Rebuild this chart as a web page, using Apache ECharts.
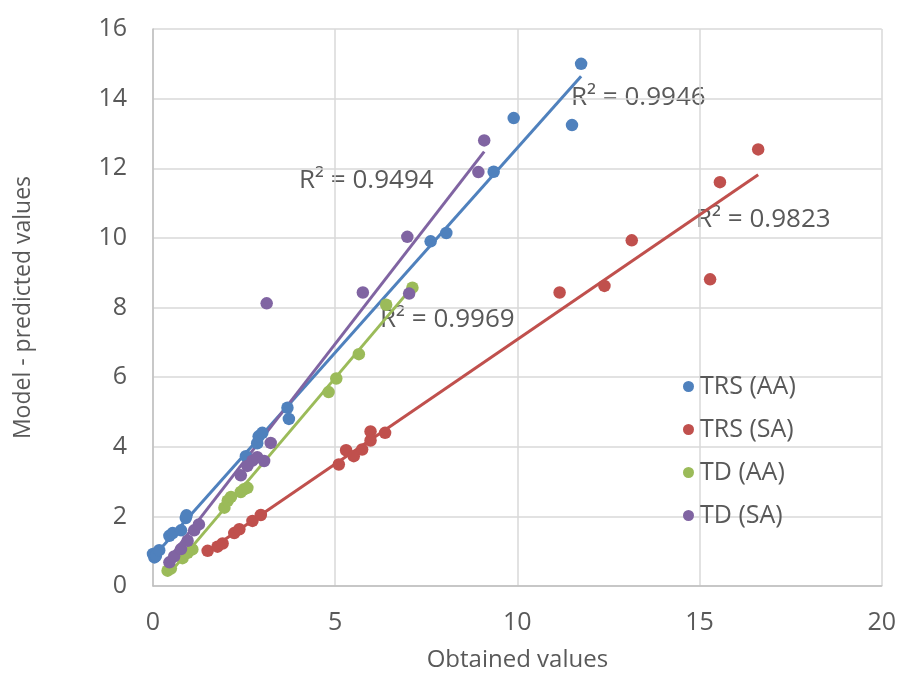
<!DOCTYPE html>
<html><head><meta charset="utf-8">
<script src="https://cdn.jsdelivr.net/npm/echarts@6/dist/echarts.min.js"></script>
<style>html,body{margin:0;padding:0;background:#fff}#c{width:899px;height:677px}</style>
</head><body><div id="c"></div>
<script>
var seriesNames = ['TRS (AA)', 'TRS (SA)', 'TD (AA)', 'TD (SA)'];
var trsAA = [[0,0.92],[0.04,0.82],[0.08,0.87],[0.17,1.03],[0.45,1.44],[0.54,1.52],[0.77,1.6],[0.9,1.95],[0.92,2.03],
  [2.55,3.73],[2.86,4.1],[2.9,4.3],[3.0,4.4],[3.69,5.12],[3.73,4.8],
  [7.62,9.9],[8.05,10.14],[9.35,11.9],[9.9,13.44],[11.5,13.24],[11.75,15.0]];
var trsSA = [[1.5,1.01],[1.77,1.13],[1.91,1.22],[2.23,1.52],[2.37,1.63],[2.73,1.87],[2.96,2.04],
  [5.1,3.49],[5.3,3.9],[5.51,3.73],[5.74,3.92],[5.97,4.18],[5.97,4.44],[6.37,4.4],
  [11.16,8.43],[12.39,8.62],[13.14,9.93],[15.29,8.81],[15.56,11.6],[16.61,12.54]];
var tdAA = [[0.4,0.44],[0.49,0.5],[0.81,0.8],[0.95,0.95],[1.08,1.05],
  [1.96,2.25],[2.05,2.45],[2.14,2.56],[2.41,2.7],[2.5,2.78],[2.59,2.82],
  [4.82,5.57],[5.03,5.96],[5.65,6.66],[6.4,8.08],[7.12,8.57]];
var tdSA = [[0.45,0.68],[0.58,0.85],[0.77,1.06],[0.95,1.3],[1.13,1.6],[1.26,1.77],
  [2.41,3.18],[2.59,3.45],[2.73,3.6],[2.86,3.7],[3.05,3.59],[3.23,4.11],[3.12,8.12],
  [5.76,8.43],[6.98,10.03],[7.03,8.4],[8.93,11.89],[9.09,12.8]];
var r2Labels = ['R² = 0.9946', 'R² = 0.9823', 'R² = 0.9969', 'R² = 0.9494'];
var xTicks = [0, 5, 10, 15, 20];
var yTicks = [0, 2, 4, 6, 8, 10, 12, 14, 16];

var colors = ['#4F81BD', '#C0504D', '#9BBB59', '#8064A2'];
var allData = [trsAA, trsSA, tdAA, tdSA];

function fit(d) {
  var n = d.length, sx = 0, sy = 0, sxx = 0, sxy = 0, mn = Infinity, mx = -Infinity;
  d.forEach(function (p) { sx += p[0]; sy += p[1]; sxx += p[0] * p[0]; sxy += p[0] * p[1]; mn = Math.min(mn, p[0]); mx = Math.max(mx, p[0]); });
  var b = (n * sxy - sx * sy) / (n * sxx - sx * sx), a = (sy - b * sx) / n;
  return [[mn, a + b * mn], [mx, a + b * mx]];
}

var txt = '#595959';
var font = 'Open Sans';
var series = [];
allData.forEach(function (d, i) {
  series.push({ name: seriesNames[i], type: 'line', data: fit(d), symbol: 'none', showSymbol: false,
    lineStyle: { color: colors[i], width: 3 }, itemStyle: { color: colors[i] }, z: 3, silent: true, legendHoverLink: false });
});
allData.forEach(function (d, i) {
  series.push({ name: seriesNames[i], type: 'scatter', data: d, symbol: 'circle', symbolSize: 12.5,
    itemStyle: { color: colors[i], opacity: 1 }, z: 4 });
});

var chart = echarts.init(document.getElementById('c'));
chart.setOption({
  animation: false,
  backgroundColor: '#fff',
  grid: { left: 153, right: 15, top: 29, bottom: 90, containLabel: false },
  xAxis: {
    type: 'value', min: xTicks[0], max: xTicks[xTicks.length - 1], interval: 5,
    name: 'Obtained values', nameLocation: 'middle', nameGap: 62,
    nameTextStyle: { color: txt, fontSize: 24, fontFamily: font },
    axisLine: { show: true, lineStyle: { color: '#bfbfbf', width: 1.5 } },
    axisTick: { show: false },
    axisLabel: { color: txt, fontSize: 25, fontFamily: font, margin: 24 },
    splitLine: { show: true, lineStyle: { color: '#d9d9d9', width: 1.5 } }
  },
  yAxis: {
    type: 'value', min: yTicks[0], max: yTicks[yTicks.length - 1], interval: 2,
    name: 'Model - predicted values', nameLocation: 'middle', nameGap: 118,
    nameTextStyle: { color: txt, fontSize: 23, fontFamily: font },
    axisLine: { show: true, lineStyle: { color: '#bfbfbf', width: 1.5 } },
    axisTick: { show: false },
    axisLabel: { color: txt, fontSize: 25, fontFamily: font, margin: 26 },
    splitLine: { show: true, lineStyle: { color: '#d9d9d9', width: 1.5 } }
  },
  legend: {
    orient: 'vertical', left: 678, top: 369, itemGap: 18, itemWidth: 11, itemHeight: 11,
    icon: 'circle', selectedMode: false,
    textStyle: { color: txt, fontSize: 25, fontFamily: font, padding: [0, 0, 0, 1] },
    data: seriesNames.map(function (n, i) { return { name: n, itemStyle: { color: colors[i] } }; })
  },
  graphic: [
    { type: 'text', left: 571, top: 85, style: { text: r2Labels[0], fill: txt, font: '26px "Open Sans"' } },
    { type: 'text', left: 696, top: 207, style: { text: r2Labels[1], fill: txt, font: '26px "Open Sans"' } },
    { type: 'text', left: 380, top: 307, style: { text: r2Labels[2], fill: txt, font: '26px "Open Sans"' } },
    { type: 'text', left: 299, top: 168, style: { text: r2Labels[3], fill: txt, font: '26px "Open Sans"' } }
  ],
  series: series
});
</script></body></html>
